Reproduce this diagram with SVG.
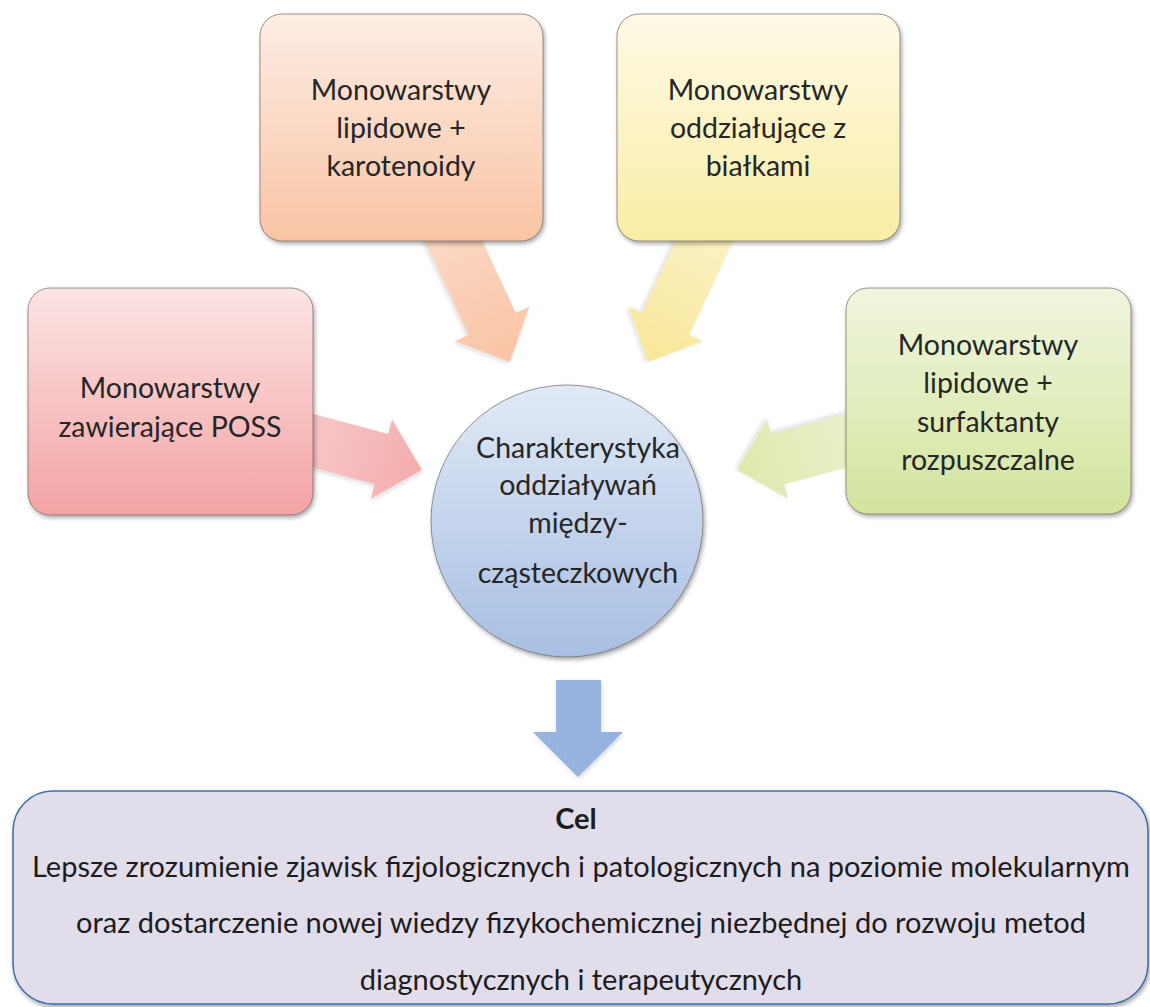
<svg xmlns="http://www.w3.org/2000/svg" width="1150" height="1007" viewBox="0 0 1150 1007">
<style>
  .lbl { font-family: Lato, "Liberation Sans", sans-serif; font-size: 28.5px; fill: #262626; text-anchor: middle; }
  .goal { font-family: Lato, "Liberation Sans", sans-serif; font-size: 29px; fill: #1c1c1c; text-anchor: middle; }
  .box { stroke: #5b5550; stroke-width: 1; stroke-opacity: 0.6; filter: url(#sh); }
</style>
<defs>
  <filter id="sh" x="-10%" y="-10%" width="125%" height="125%">
    <feDropShadow dx="1.5" dy="2.5" stdDeviation="2" flood-color="#000" flood-opacity="0.35"/>
  </filter>
  <filter id="ash" x="-10%" y="-10%" width="125%" height="125%">
    <feDropShadow dx="1" dy="2" stdDeviation="2" flood-color="#000" flood-opacity="0.15"/>
  </filter>
  <linearGradient id="gOrange" x1="0" y1="0" x2="0" y2="1"><stop offset="0" stop-color="#FDEDE4"/><stop offset="1" stop-color="#F9C4A4"/></linearGradient>
  <linearGradient id="gYellow" x1="0" y1="0" x2="0" y2="1"><stop offset="0" stop-color="#FEFAE6"/><stop offset="1" stop-color="#FAEDA4"/></linearGradient>
  <linearGradient id="gRed" x1="0" y1="0" x2="0" y2="1"><stop offset="0" stop-color="#FCE4E4"/><stop offset="1" stop-color="#F4A3A4"/></linearGradient>
  <linearGradient id="gGreen" x1="0" y1="0" x2="0" y2="1"><stop offset="0" stop-color="#F0F6DF"/><stop offset="1" stop-color="#D3E49D"/></linearGradient>
  <linearGradient id="gCircle" x1="0" y1="0" x2="0" y2="1"><stop offset="0" stop-color="#E1E9F6"/><stop offset="1" stop-color="#A8BFE3"/></linearGradient>
  <linearGradient id="aOrange" x1="0" y1="0" x2="1" y2="0"><stop offset="0" stop-color="#FCDCCB"/><stop offset="1" stop-color="#F9C3A3"/></linearGradient>
  <linearGradient id="aYellow" x1="0" y1="0" x2="1" y2="0"><stop offset="0" stop-color="#FCF4CC"/><stop offset="1" stop-color="#F8E799"/></linearGradient>
  <linearGradient id="aRed" x1="0" y1="0" x2="1" y2="0"><stop offset="0" stop-color="#F9D2D2"/><stop offset="1" stop-color="#F4ADAD"/></linearGradient>
  <linearGradient id="aGreen" x1="0" y1="0" x2="1" y2="0"><stop offset="0" stop-color="#EEF4D8"/><stop offset="1" stop-color="#DCE9AB"/></linearGradient>
</defs>
<rect width="1150" height="1007" fill="#ffffff"/>

<g id="connectors">
  <polygon points="0,0 -42,-41 -42,-26 -170,-26 -170,26 -42,26 -42,41" fill="url(#aRed)" filter="url(#ash)" transform="translate(422,470) rotate(15)"/>
  <polygon points="0,0 -42,-41 -42,-26 -170,-26 -170,26 -42,26 -42,41" fill="url(#aOrange)" filter="url(#ash)" transform="translate(510,362) rotate(65)"/>
  <polygon points="0,0 -42,-41 -42,-26 -170,-26 -170,26 -42,26 -42,41" fill="url(#aYellow)" filter="url(#ash)" transform="translate(648,362) rotate(115)"/>
  <polygon points="0,0 -42,-41 -42,-26 -170,-26 -170,26 -42,26 -42,41" fill="url(#aGreen)" filter="url(#ash)" transform="translate(737,470) rotate(165)"/>
  <polygon points="556,680 601,680 601,732 623,732 578,777 533,732 556,732" fill="#95B3DE" filter="url(#ash)"/>
</g>

<g id="node-karotenoidy">
  <rect class="box" x="260" y="14" width="283" height="227" rx="22" fill="url(#gOrange)"/>
  <text class="lbl" x="401" y="100">Monowarstwy</text>
  <text class="lbl" x="401" y="138">lipidowe +</text>
  <text class="lbl" x="401" y="176">karotenoidy</text>
</g>

<g id="node-bialka">
  <rect class="box" x="617" y="14" width="283" height="227" rx="22" fill="url(#gYellow)"/>
  <text class="lbl" x="758" y="100">Monowarstwy</text>
  <text class="lbl" x="758" y="138">oddziałujące z</text>
  <text class="lbl" x="758" y="176">białkami</text>
</g>

<g id="node-poss">
  <rect class="box" x="28" y="288" width="285" height="227" rx="22" fill="url(#gRed)"/>
  <text class="lbl" x="170" y="398">Monowarstwy</text>
  <text class="lbl" x="170" y="437">zawierające POSS</text>
</g>

<g id="node-surfaktanty">
  <rect class="box" x="846" y="288" width="285" height="226" rx="22" fill="url(#gGreen)"/>
  <text class="lbl" x="988" y="355">Monowarstwy</text>
  <text class="lbl" x="988" y="393">lipidowe +</text>
  <text class="lbl" x="988" y="432">surfaktanty</text>
  <text class="lbl" x="988" y="470">rozpuszczalne</text>
</g>

<g id="node-center">
  <circle class="box" cx="567" cy="521" r="136" fill="url(#gCircle)"/>
  <text class="lbl" x="578" y="458">Charakterystyka</text>
  <text class="lbl" x="578" y="495">oddziaływań</text>
  <text class="lbl" x="578" y="533">między-</text>
  <text class="lbl" x="578" y="583">cząsteczkowych</text>
</g>

<g id="node-cel">
  <rect x="13" y="791" width="1135" height="213" rx="40" fill="#E2DDEB" stroke="#3F6EA9" stroke-width="1.5" filter="url(#sh)"/>
  <text class="goal" x="576" y="829" font-weight="bold">Cel</text>
  <text class="goal" x="581" y="877">Lepsze zrozumienie zjawisk fizjologicznych i patologicznych na poziomie molekularnym</text>
  <text class="goal" x="581" y="933">oraz dostarczenie nowej wiedzy fizykochemicznej niezbędnej do rozwoju metod</text>
  <text class="goal" x="581" y="990">diagnostycznych i terapeutycznych</text>
</g>
</svg>
